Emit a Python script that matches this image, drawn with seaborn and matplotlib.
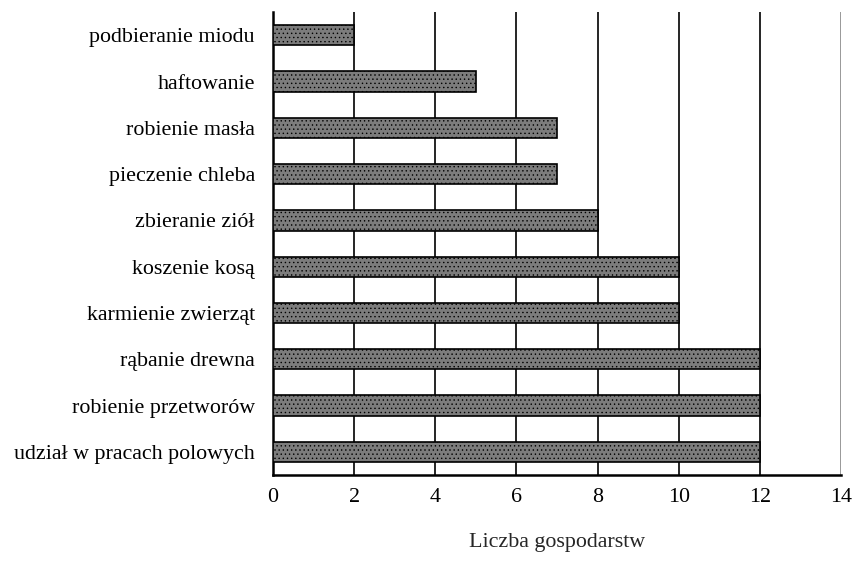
import matplotlib
matplotlib.use("Agg")
import matplotlib.pyplot as plt
import seaborn as sns
import numpy as np
import pandas as pd

categories = ["podbieranie miodu", "haftowanie", "robienie masła", "pieczenie chleba",
              "zbieranie ziół", "koszenie kosą", "karmienie zwierząt", "rąbanie drewna",
              "robienie przetworów", "udział w pracach polowych"]
values = [2, 5, 7, 7, 8, 10, 10, 12, 12, 12]
xticks = [0, 2, 4, 6, 8, 10, 12, 14]

sns.set_style("white")
plt.rcParams['font.family'] = ['Liberation Serif', 'DejaVu Serif']
plt.rcParams['hatch.color'] = '#a8a8a8'
plt.rcParams['hatch.linewidth'] = 0.5
plt.rcParams['text.color'] = 'black'
plt.rcParams['xtick.color'] = 'black'
plt.rcParams['ytick.color'] = 'black'

FS = 15.8
df = pd.DataFrame({"cat": categories, "val": values})
fig = plt.figure(figsize=(8.55, 5.76), dpi=100)
ax = fig.add_axes([0.3193, 0.1753, 0.6643, 0.8037])
sns.barplot(data=df, x="val", y="cat", orient="h", color="#7c7c7c", width=0.44,
            edgecolor="black", linewidth=1.2, saturation=1, ax=ax)
for p in ax.patches:
    p.set_hatch("....")
    p.set_zorder(3)

ax.set_xlim(0, 14)
ax.set_ylim(len(categories) - 0.5, -0.5)
ax.set_xticks(xticks)
ax.set_xticklabels([str(t) for t in xticks], fontsize=FS)
ax.tick_params(axis='x', which='major', direction='out', length=6, width=1.5, pad=3)
for t in xticks[1:]:
    ax.axvline(t, color='black' if t < 14 else '#888888', lw=1.2, zorder=1)
ax.tick_params(axis='y', length=0, labelsize=FS, pad=13)
ax.set_yticks(np.arange(-0.5, len(categories) + 0.5, 1), minor=True)
ax.tick_params(axis='y', which='minor', length=6, width=1.5, direction='out', color='black')
ax.set_ylabel("")
ax.set_xlabel("Liczba gospodarstw", fontsize=FS, labelpad=19)
for s in ["top", "right"]:
    ax.spines[s].set_visible(False)
for s in ["left", "bottom"]:
    ax.spines[s].set_color("black")
    ax.spines[s].set_linewidth(1.8)
fig.savefig("out.png", dpi=100)
